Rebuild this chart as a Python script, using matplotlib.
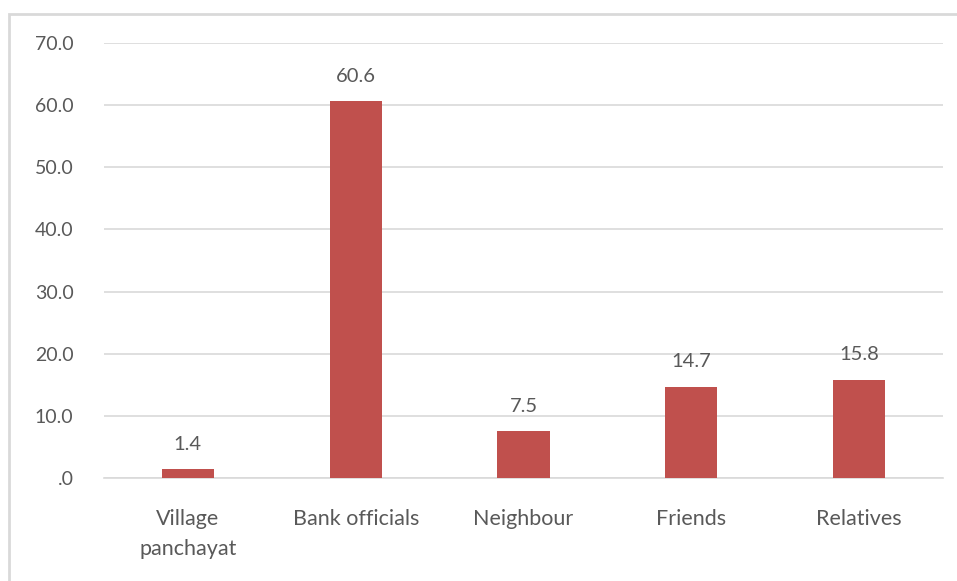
import matplotlib
matplotlib.use("Agg")
import matplotlib.pyplot as plt
from matplotlib.patches import Rectangle

categories = ["Village\npanchayat", "Bank officials", "Neighbour", "Friends", "Relatives"]
values = [1.4, 60.6, 7.5, 14.7, 15.8]
y_ticks = [0, 10, 20, 30, 40, 50, 60, 70]
y_tick_labels = [".0", "10.0", "20.0", "30.0", "40.0", "50.0", "60.0", "70.0"]

plt.rcParams["font.family"] = ["Lato", "DejaVu Sans"]
text_color = "#595959"
bar_color = "#C0504D"
grid_color = "#D9D9D9"

fig = plt.figure(figsize=(9.57, 5.81), dpi=100)
W, H = 957, 581

# outer chart frame
fig.patches.append(Rectangle((9 / W, -0.1), 1.2, 1 - 14 / H + 0.1, transform=fig.transFigure,
                             fill=False, edgecolor="#D9D9D9", linewidth=2.0))

ax = fig.add_axes([104 / W, 1 - 478 / H, (943 - 104) / W, (478 - 43) / H])
x = range(len(categories))
ax.bar(x, values, width=0.31, color=bar_color, zorder=3)
ax.set_xlim(-0.5, len(categories) - 0.5)
ax.set_ylim(0, 70)
ax.set_yticks(y_ticks)
ax.set_yticklabels(y_tick_labels)
ax.yaxis.grid(True, color=grid_color, linewidth=1.2, zorder=0)
ax.set_xticks(list(x))
ax.set_xticklabels(categories, linespacing=1.65, fontsize=15.5)
for s in ["top", "right", "left"]:
    ax.spines[s].set_visible(False)
ax.spines["bottom"].set_color(grid_color)
ax.spines["bottom"].set_linewidth(1.2)
ax.tick_params(axis="both", length=0, colors=text_color)
ax.tick_params(axis="y", pad=22, labelsize=14)
ax.tick_params(axis="x", pad=22)

for xi, v in zip(x, values):
    ax.annotate(f"{v:.1f}", (xi, v), xytext=(0, 18), textcoords="offset points",
                ha="center", va="center", fontsize=14.5, color=text_color)

fig.savefig("out.png", dpi=100, facecolor="white")
